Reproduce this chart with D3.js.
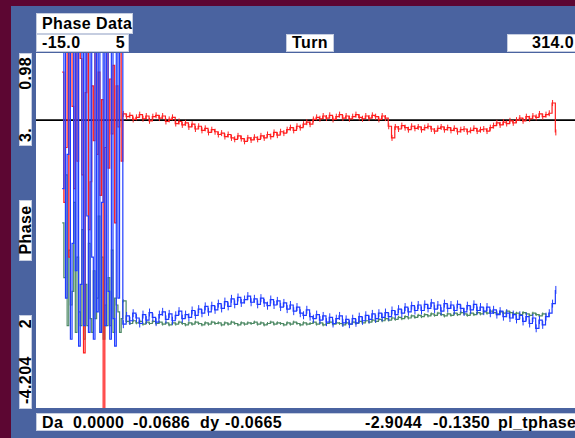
<!DOCTYPE html>
<html>
<head>
<meta charset="utf-8">
<script src="https://cdn.jsdelivr.net/npm/d3@7"></script>
<style>
html,body{margin:0;padding:0;background:#5c0632;}
svg{display:block;}
text{font-family:"Liberation Sans",Arial,Helvetica,sans-serif;font-weight:bold;fill:#000;}
</style>
</head>
<body>
<script>
// ---- data ----
const xDomain = [-15.0, 314.0];
const yDomain = [-4.204, 0.98];
const titleText = "Phase Data";
const xLabel = "Turn";
const yLabel = "Phase";
const xMinLabel = "-15.0", xMidLabel = "5", xMaxLabel = "314.0";
const yTopLabels = ["3.", "0.98"];
const yBotLabels = ["-4.204", "2"];
const footerLeft = [["Da", 42], ["0.0000", 73], ["-0.0686", 133], ["dy", 200], ["-0.0665", 225]];
const footerRight = [["-2.9044", 365], ["-0.1350", 433], ["pl_tphase", 498]];
const refLine = 0;

const turnsEarly = [1,2,3,4,5,6,7,8,9,10,11,12,13,14,15,16,17,18,19,20,21,22,23,24,25,26,27,28,29,30,31,32,33,34,35,36,37];
const redEarly = [0.7,-1.2,-0.4,1.5,-2.0,1.3,0.2,-1.0,1.6,-0.6,1.2,0.9,-0.8,-3.4,0.4,1.2,-1.6,-0.9,0.5,-0.3,1.3,-0.5,0.7,-1.1,0.3,-4.5,-0.4,1.4,-0.7,0.6,-0.2,0.8,-1.5,0.5,-0.1,1.3,-0.6];
const blueEarly = [-1.0,1.5,-2.6,-0.5,1.4,-3.2,-1.8,1.5,-2.2,1.3,-3.3,-2.4,1.5,-3.0,1.2,-1.4,-3.1,1.5,-2.0,-3.2,1.4,-2.8,1.3,-3.1,-1.2,1.5,-3.0,1.4,-2.5,-3.2,1.5,-2.9,-3.3,1.3,-2.6,1.5,1.5];
const greenEarly = [-1.5,-2.3,-0.8,-3.0,-1.9,-2.7,-2.5,-1.2,-3.1,-2.0,-2.8,-3.0,-1.6,-3.2,-2.4,-3.0,-1.8,-2.9,-3.1,-2.2,-2.9,-2.6,-1.4,-3.1,-2.0,-3.2,-2.7,-3.0,-2.3,-3.0,-1.9,-3.1,-2.6,-2.7,-2.8,-3.1,-2.9];

const turnsMain = [38,40,42,44,46,48,50,52,54,56,58,60,62,64,66,68,70,72,74,76,78,80,82,84,86,88,90,92,94,96,98,100,102,104,106,108,110,112,114,116,118,120,122,124,126,128,130,132,134,136,138,140,142,144,146,148,150,152,154,156,158,160,162,164,166,168,170,172,174,176,178,180,182,184,186,188,190,192,194,196,198,200,202,204,206,208,210,212,214,216,218,220,222,224,226,228,230,232,234,236,238,240,242,244,246,248,250,252,254,256,258,260,262,264,266,268,270,272,274,276,278,280,282,284,286,288,290,292,294,296,298,300,302];
const redMain = [
0.09,0.05,0.07,0.01,0.04,0.08,0.02,0.06,-0.01,0.05,
0.07,0.03,0.06,-0.02,0.01,0.04,-0.05,-0.02,-0.07,-0.04,
-0.10,-0.06,-0.13,-0.09,-0.15,-0.12,-0.18,-0.14,-0.17,-0.21,
-0.19,-0.24,-0.21,-0.26,-0.28,-0.23,-0.27,-0.31,-0.26,-0.29,
-0.25,-0.28,-0.23,-0.26,-0.21,-0.24,-0.18,-0.22,-0.17,-0.19,
-0.14,-0.11,-0.15,-0.09,-0.11,-0.06,-0.03,-0.06,0.01,0.04,
0.02,0.06,0.03,0.07,0.01,0.05,0.08,0.03,0.06,0.02,
0.05,0.08,0.04,0.02,0.06,0.03,0.07,0.05,0.01,0.06,
0.03,-0.09,-0.26,-0.10,-0.13,-0.08,-0.11,-0.14,-0.09,-0.12,
-0.10,-0.14,-0.11,-0.09,-0.13,-0.16,-0.12,-0.10,-0.14,-0.11,
-0.15,-0.12,-0.17,-0.14,-0.13,-0.17,-0.15,-0.12,-0.16,-0.14,
-0.13,-0.16,-0.11,-0.08,-0.04,-0.07,-0.03,-0.05,-0.01,-0.04,
0.00,0.03,-0.01,0.05,0.02,0.06,0.04,0.09,0.05,0.08,
0.10,0.25,-0.18];
const blueMain = [
-2.98,-2.86,-2.93,-2.82,-2.89,-2.97,-2.84,-2.92,-2.81,-2.88,
-2.95,-2.84,-2.80,-2.91,-2.83,-2.93,-2.85,-2.79,-2.90,-2.84,
-2.88,-2.78,-2.85,-2.76,-2.82,-2.72,-2.80,-2.71,-2.77,-2.68,
-2.75,-2.65,-2.72,-2.61,-2.69,-2.59,-2.67,-2.62,-2.57,-2.66,
-2.61,-2.69,-2.60,-2.67,-2.71,-2.62,-2.70,-2.64,-2.73,-2.67,
-2.76,-2.70,-2.79,-2.73,-2.82,-2.85,-2.77,-2.87,-2.90,-2.84,
-2.92,-2.86,-2.95,-2.88,-2.97,-2.90,-2.86,-2.96,-2.91,-2.98,
-2.90,-2.96,-2.87,-2.93,-2.85,-2.91,-2.83,-2.90,-2.82,-2.88,
-2.81,-2.87,-2.78,-2.84,-2.76,-2.82,-2.73,-2.80,-2.71,-2.78,
-2.70,-2.78,-2.69,-2.75,-2.67,-2.76,-2.70,-2.79,-2.68,-2.75,
-2.70,-2.78,-2.69,-2.75,-2.80,-2.71,-2.77,-2.69,-2.78,-2.73,
-2.79,-2.73,-2.82,-2.77,-2.84,-2.79,-2.87,-2.82,-2.89,-2.84,
-2.91,-2.85,-2.94,-2.87,-2.97,-2.89,-3.04,-2.92,-2.99,-2.87,
-2.82,-2.68,-2.48];
const greenMain = [
-2.64,-2.94,-2.97,-2.93,-2.96,-2.94,-2.98,-2.95,-2.97,-2.94,
-2.97,-2.95,-2.98,-2.96,-2.99,-2.96,-2.98,-2.95,-2.97,-2.99,
-2.96,-2.98,-2.95,-2.97,-2.99,-2.96,-2.98,-2.95,-2.97,-2.96,
-2.99,-2.96,-2.98,-2.95,-2.97,-2.99,-2.96,-2.98,-2.96,-2.97,
-2.95,-2.98,-2.96,-2.99,-2.97,-2.95,-2.98,-2.96,-2.97,-2.99,
-2.96,-2.98,-2.95,-2.97,-2.99,-2.96,-2.98,-2.97,-2.95,-2.98,
-2.96,-2.99,-2.97,-2.95,-2.98,-2.96,-2.97,-2.99,-2.96,-2.98,
-2.95,-2.97,-2.94,-2.96,-2.93,-2.95,-2.92,-2.94,-2.91,-2.93,
-2.90,-2.92,-2.89,-2.91,-2.88,-2.90,-2.87,-2.89,-2.86,-2.88,
-2.85,-2.87,-2.84,-2.86,-2.83,-2.85,-2.82,-2.84,-2.86,-2.83,
-2.85,-2.82,-2.84,-2.81,-2.83,-2.85,-2.82,-2.84,-2.81,-2.83,
-2.80,-2.82,-2.79,-2.81,-2.83,-2.80,-2.82,-2.79,-2.81,-2.83,
-2.82,-2.84,-2.81,-2.83,-2.85,-2.82,-2.84,-2.86,-2.83,-2.85,
null,null,null];

const series = [
  {name:"green", color:"#4f8a66", early:greenEarly, main:greenMain, tick:1.5},
  {name:"red", color:"#ff1f1f", early:redEarly, main:redMain, tick:3},
  {name:"blue", color:"#1f3cff", early:blueEarly, main:blueMain, tick:4}
];

// ---- layout ----
const W = 575, H = 438;
const plot = {x0:36, x1:575, y0:53, y1:408};
const svg = d3.select("body").append("svg").attr("width", W).attr("height", H);

svg.append("rect").attr("width", W).attr("height", H).attr("fill", "#5c0632");
svg.append("rect").attr("x", 11).attr("y", 6).attr("width", W - 11).attr("height", H - 6).attr("fill", "#4a63a0");
svg.append("rect").attr("x", plot.x0).attr("y", plot.y0)
  .attr("width", plot.x1 - plot.x0).attr("height", plot.y1 - plot.y0).attr("fill", "#fff");

const x = d3.scaleLinear().domain(xDomain).range([plot.x0, plot.x1]);
const y = d3.scaleLinear().domain(yDomain).range([plot.y1, plot.y0]);

svg.append("clipPath").attr("id", "clip").append("rect")
  .attr("x", plot.x0).attr("y", plot.y0).attr("width", plot.x1 - plot.x0).attr("height", plot.y1 - plot.y0);

const g = svg.append("g").attr("clip-path", "url(#clip)");

g.append("line").attr("x1", plot.x0).attr("x2", plot.x1)
  .attr("y1", y(refLine)).attr("y2", y(refLine))
  .attr("stroke", "#000").attr("stroke-width", 1.6);

const line = d3.line().defined(d => d.v != null)
  .x(d => x(d.t)).y(d => y(d.v)).curve(d3.curveStepAfter);

series.forEach(s => {
  const mainPts = turnsMain.map((t, i) => ({t, v: s.main[i]}));
  const pts = turnsEarly.map((t, i) => ({t, v: s.early[i]})).concat(mainPts);
  g.append("path").datum(pts).attr("d", line)
    .attr("fill", "none").attr("stroke", s.color).attr("stroke-width", 1.2);
  g.append("g").selectAll("line").data(mainPts.filter(d => d.v != null)).join("line")
    .attr("x1", d => x(d.t) + 0.5).attr("x2", d => x(d.t) + 0.5)
    .attr("y1", d => y(d.v) - s.tick).attr("y2", d => y(d.v) + s.tick)
    .attr("stroke", s.color).attr("stroke-width", 1);
});

// ---- label boxes ----
function box(x0, y0, w, h) {
  svg.append("rect").attr("x", x0).attr("y", y0).attr("width", w).attr("height", h)
    .attr("fill", "#fff").attr("stroke", "#c5cde0").attr("stroke-width", 1);
}
function txt(s, xx, yy, anchor) {
  return svg.append("text").attr("x", xx).attr("y", yy).attr("text-anchor", anchor || "start")
    .attr("font-size", 16).attr("letter-spacing", 0.4).text(s);
}

box(36.5, 13.5, 96, 20);
txt(titleText, 42, 29);
box(36.5, 34.5, 92, 17);
txt(xMinLabel, 42, 48);
txt(xMidLabel, 125, 48, "end");
box(286.5, 34.5, 47, 17);
txt(xLabel, 310, 48, "middle");
box(507.5, 34.5, 70, 17);
txt(xMaxLabel, 574, 48, "end");

// y-axis boxes (rotated text)
box(19.5, 53.5, 12, 92);
box(19.5, 200.5, 12, 60);
box(19.5, 315.5, 12, 93);
function rtxt(s, yy, anchor) {
  svg.append("text").attr("transform", `translate(30.5,${yy}) rotate(-90)`)
    .attr("text-anchor", anchor).attr("font-size", 16).attr("letter-spacing", 0.4).text(s);
}
rtxt(yTopLabels[0], 142, "start");
rtxt(yTopLabels[1], 57, "end");
rtxt(yLabel, 230, "middle");
rtxt(yBotLabels[0], 404, "start");
rtxt(yBotLabels[1], 319, "end");

// footer
box(36.5, 413.5, 540, 17);
footerLeft.forEach(([s, xx]) => txt(s, xx, 428));
footerRight.forEach(([s, xx]) => txt(s, xx, 428));
</script>
</body>
</html>
